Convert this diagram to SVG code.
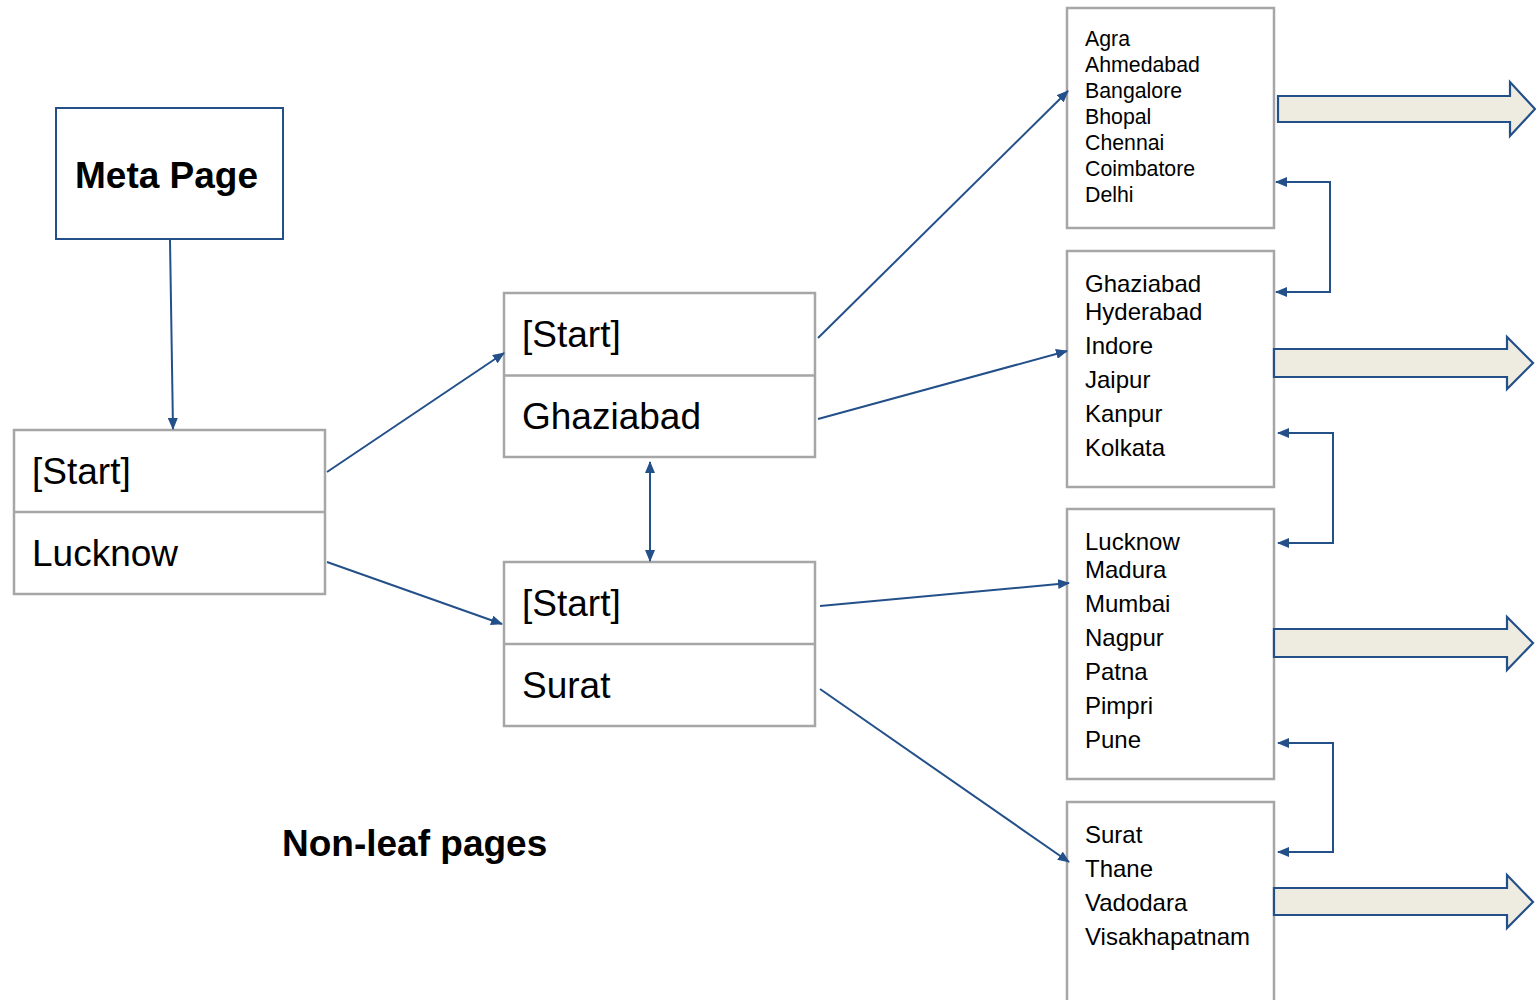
<svg xmlns="http://www.w3.org/2000/svg" width="1536" height="1000" viewBox="0 0 1536 1000">
<defs>
<style>
.t{font-family:"Liberation Sans",Arial,sans-serif;fill:#000}
.box{fill:#fff;stroke:#a6a6a6;stroke-width:2.5}
.meta{fill:#fff;stroke:#24508a;stroke-width:2}
.ln{fill:none;stroke:#24508a;stroke-width:2}
.blk{fill:#eeebe0;stroke:#24508a;stroke-width:2.2;stroke-linejoin:miter}
.big{font-size:37px}
.l1{font-size:21.3px}
.l2{font-size:24px}
</style>
<marker id="ah" viewBox="0 0 12 10" refX="11" refY="5" markerWidth="12" markerHeight="10" markerUnits="userSpaceOnUse" orient="auto-start-reverse">
<path d="M0,0 L12,5 L0,10 Z" fill="#24508a"/>
</marker>
</defs>
<rect width="1536" height="1000" fill="#fff"/>

<g id="meta">
<rect class="meta" x="56" y="108" width="227" height="131"/>
<text class="t big" x="75" y="188" font-weight="bold">Meta Page</text>
</g>

<g id="lucknow-node">
<rect class="box" x="14" y="430" width="311" height="164"/>
<line class="box" x1="14" y1="512" x2="325" y2="512"/>
<text class="t big" x="32" y="484">[Start]</text>
<text class="t big" x="32" y="566">Lucknow</text>
</g>

<g id="ghaziabad-node">
<rect class="box" x="504" y="293" width="311" height="164"/>
<line class="box" x1="504" y1="375.5" x2="815" y2="375.5"/>
<text class="t big" x="522" y="347">[Start]</text>
<text class="t big" x="522" y="429">Ghaziabad</text>
</g>

<g id="surat-node">
<rect class="box" x="504" y="562" width="311" height="164"/>
<line class="box" x1="504" y1="644" x2="815" y2="644"/>
<text class="t big" x="522" y="616">[Start]</text>
<text class="t big" x="522" y="698">Surat</text>
</g>

<g id="leaf1">
<rect class="box" x="1067" y="8" width="207" height="220"/>
<text class="t l1" x="1085" y="46">Agra</text>
<text class="t l1" x="1085" y="72">Ahmedabad</text>
<text class="t l1" x="1085" y="98">Bangalore</text>
<text class="t l1" x="1085" y="124">Bhopal</text>
<text class="t l1" x="1085" y="150">Chennai</text>
<text class="t l1" x="1085" y="176">Coimbatore</text>
<text class="t l1" x="1085" y="202">Delhi</text>
</g>

<g id="leaf2">
<rect class="box" x="1067" y="251" width="207" height="236"/>
<text class="t l2" x="1085" y="292">Ghaziabad</text>
<text class="t l2" x="1085" y="320">Hyderabad</text>
<text class="t l2" x="1085" y="354">Indore</text>
<text class="t l2" x="1085" y="388">Jaipur</text>
<text class="t l2" x="1085" y="422">Kanpur</text>
<text class="t l2" x="1085" y="456">Kolkata</text>
</g>

<g id="leaf3">
<rect class="box" x="1067" y="509" width="207" height="270"/>
<text class="t l2" x="1085" y="550">Lucknow</text>
<text class="t l2" x="1085" y="578">Madura</text>
<text class="t l2" x="1085" y="612">Mumbai</text>
<text class="t l2" x="1085" y="646">Nagpur</text>
<text class="t l2" x="1085" y="680">Patna</text>
<text class="t l2" x="1085" y="714">Pimpri</text>
<text class="t l2" x="1085" y="748">Pune</text>
</g>

<g id="leaf4">
<rect class="box" x="1067" y="802" width="207" height="220"/>
<text class="t l2" x="1085" y="843">Surat</text>
<text class="t l2" x="1085" y="877">Thane</text>
<text class="t l2" x="1085" y="911">Vadodara</text>
<text class="t l2" x="1085" y="945">Visakhapatnam</text>
</g>

<g id="label">
<text class="t big" x="282" y="856" font-weight="bold">Non-leaf pages</text>
</g>

<g id="block-arrows">
<path class="blk" d="M1278,96 L1510,96 L1510,82 L1535,109 L1510,136 L1510,122 L1278,122 Z"/>
<path class="blk" d="M1274,349 L1507,349 L1507,337 L1533,363 L1507,389 L1507,377 L1274,377 Z"/>
<path class="blk" d="M1274,629 L1507,629 L1507,617 L1533,643 L1507,670 L1507,657 L1274,657 Z"/>
<path class="blk" d="M1274,888 L1507,888 L1507,875 L1533,902 L1507,928 L1507,915 L1274,915 Z"/>
</g>

<g id="connectors">
<line class="ln" x1="170" y1="240" x2="173" y2="429" marker-end="url(#ah)"/>
<line class="ln" x1="327" y1="472" x2="504" y2="353" marker-end="url(#ah)"/>
<line class="ln" x1="327" y1="562" x2="502" y2="624" marker-end="url(#ah)"/>
<line class="ln" x1="650" y1="462" x2="650" y2="561" marker-start="url(#ah)" marker-end="url(#ah)"/>
<line class="ln" x1="818" y1="338" x2="1068" y2="91" marker-end="url(#ah)"/>
<line class="ln" x1="818" y1="419" x2="1067" y2="351" marker-end="url(#ah)"/>
<line class="ln" x1="820" y1="606" x2="1069" y2="583" marker-end="url(#ah)"/>
<line class="ln" x1="820" y1="689" x2="1069" y2="862" marker-end="url(#ah)"/>
<path class="ln" d="M1276,182 L1330,182 L1330,292 L1276,292" marker-start="url(#ah)" marker-end="url(#ah)"/>
<path class="ln" d="M1278,433 L1333,433 L1333,543 L1278,543" marker-start="url(#ah)" marker-end="url(#ah)"/>
<path class="ln" d="M1278,743 L1333,743 L1333,852 L1278,852" marker-start="url(#ah)" marker-end="url(#ah)"/>
</g>
</svg>
